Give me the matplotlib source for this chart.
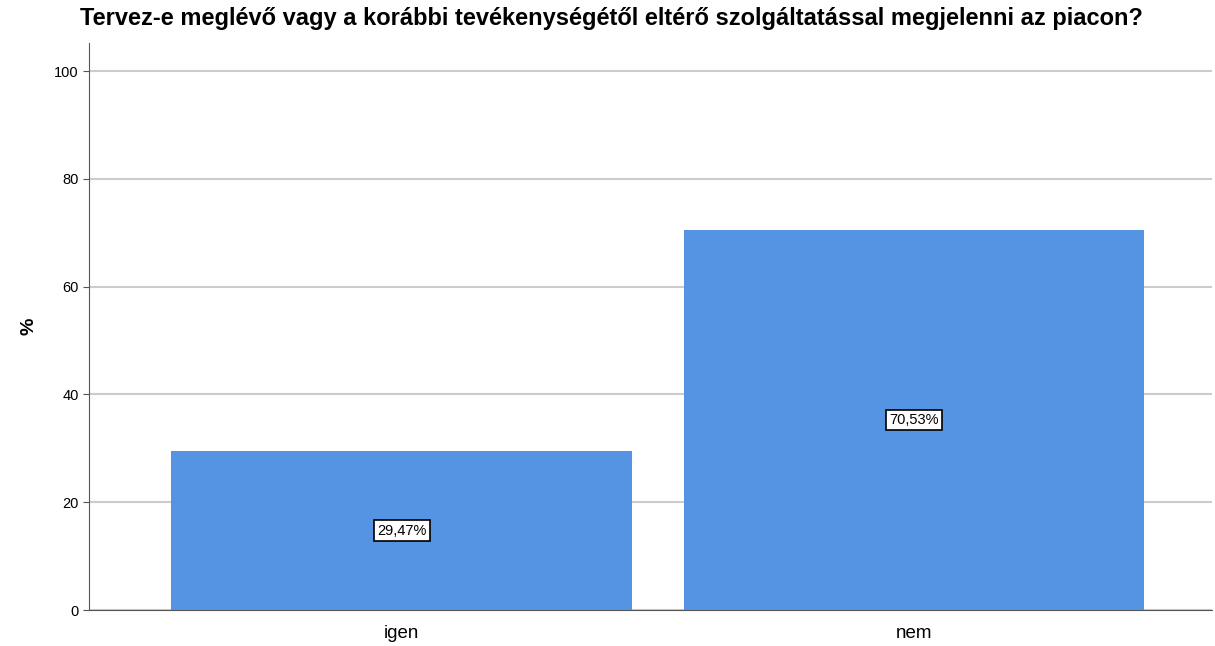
import matplotlib.pyplot as plt

plt.rcParams['font.family'] = ['Liberation Sans', 'DejaVu Sans']

categories = ['igen', 'nem']
percents = [29.47, 70.53]
labels = ['29,47%', '70,53%']

fig = plt.figure(figsize=(12.15, 6.46), dpi=100)
ax = fig.add_axes([0.0733, 0.0557, 0.9242, 0.8777])

x = range(len(categories))
bars = ax.bar(x, percents, width=0.9, color='#5594e2', zorder=2)

for b, lab in zip(bars, labels):
    ax.text(b.get_x() + b.get_width() / 2, b.get_height() / 2, lab,
            ha='center', va='center', fontsize=10.5, zorder=3,
            bbox=dict(boxstyle='square,pad=0.22', facecolor='white', edgecolor='black', linewidth=1.2))

ax.set_xlim(-0.611, 1.582)
ax.set_ylim(0, 105.2)
ax.set_yticks([0, 20, 40, 60, 80, 100])
ax.yaxis.grid(True, color='#cccccc', linewidth=1.5, zorder=0)
ax.set_xticks(list(x))
ax.set_xticklabels(categories, fontsize=13.5)
ax.tick_params(axis='y', labelsize=10.5, length=4, color='#555555')
ax.tick_params(axis='x', length=0, pad=11)

for s in ['top', 'right']:
    ax.spines[s].set_visible(False)
ax.spines['left'].set_color('#555555')
ax.spines['bottom'].set_color('#555555')

ax.set_ylabel('%', fontsize=14, fontweight='bold', labelpad=12)
fig.text(0.066, 0.972, 'Tervez-e meglévő vagy a korábbi tevékenységétől eltérő szolgáltatással megjelenni az piacon?',
         fontsize=17, fontweight='bold', va='center', ha='left')

plt.savefig('out.png', dpi=100)
